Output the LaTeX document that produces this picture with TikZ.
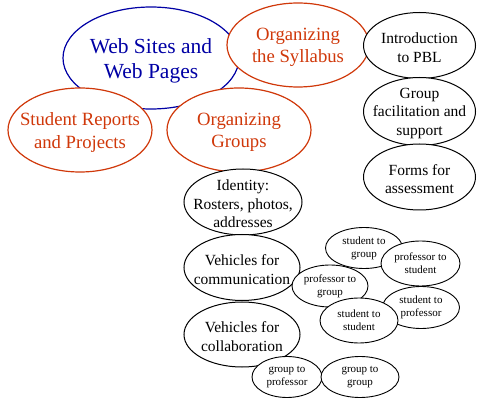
\documentclass[tikz,border=0pt]{standalone}
\usepackage{fontspec}
\setmainfont{Liberation Serif}
\definecolor{webblue}{RGB}{0,0,165}
\definecolor{topicred}{RGB}{208,56,10}
\newcommand{\bubble}[6]
{   \filldraw[fill=white,#5] (#2) ellipse (#3 and #4);
    \node[#5,bubbletext,#5 text] (#1) at (#2) {#6};
}
\begin{document}
\begin{tikzpicture}[x=1pt,y=-1pt,
  bubbletext/.style={align=center,inner sep=0pt,draw=none,fill=none},
  webtopic/.style={draw=webblue,text=webblue,line width=1.2pt,font={\fontsize{21.5}{25}\selectfont}},
  webtopic text/.style={yshift=-3pt},
  maintopic/.style={draw=topicred,text=topicred,line width=1.2pt,font={\fontsize{18.7}{22.5}\selectfont}},
  maintopic text/.style={yshift=-2.5pt},
  subtopic/.style={draw=black,text=black,line width=1pt,font={\fontsize{15.5}{18.5}\selectfont}},
  subtopic text/.style={yshift=-2pt},
  smalltopic/.style={draw=black,text=black,line width=0.9pt,font={\fontsize{11}{13}\selectfont}},
  smalltopic text/.style={}]
 \useasboundingbox (0,0) rectangle (477,398);

 % main topics
 \bubble{web}{151,58}{88}{51}{webtopic}{Web Sites and\\Web Pages}
 \bubble{syllabus}{298,45}{71}{42}{maintopic}{Organizing\\the Syllabus}
 \bubble{reports}{80,130}{72}{42}{maintopic}{Student Reports\\and Projects}
 \bubble{groups}{239,130}{72}{42}{maintopic}{Organizing\\Groups}

 % syllabus column
 \bubble{intro}{419.5,45.5}{56}{33}{subtopic}{Introduction\\to PBL}
 \bubble{facil}{419.5,111.5}{56}{34}{subtopic}{Group\\facilitation and\\support}
 \bubble{forms}{419.5,177}{56}{33}{subtopic}{Forms for\\assessment}

 % groups column
 \bubble{identity}{243,202}{59}{33}{subtopic}{Identity:\\Rosters, photos,\\addresses}
 \bubble{commun}{242,267.5}{58}{33}{subtopic}{Vehicles for\\communication}
 \bubble{collab}{242,334.5}{58}{32.5}{subtopic}{Vehicles for\\collaboration}

 % communication cluster
 \bubble{stgroup}{364,248}{38.5}{20.5}{smalltopic}{student to\\group}
 \bubble{profst}{420.5,263.5}{39.5}{22.5}{smalltopic}{professor to\\student}
 \bubble{stprof}{421,307.5}{38.5}{21}{smalltopic}{student to\\professor}
 \bubble{profgroup}{330,286}{38}{21}{smalltopic}{professor to\\group}
 \bubble{stst}{359,320.5}{39}{22.5}{smalltopic}{student to\\student}

 % collaboration pair
 \bubble{grprof}{287,377}{35}{20.5}{smalltopic}{group to\\professor}
 \bubble{grgr}{360,377}{39}{20.5}{smalltopic}{group to\\group}

\end{tikzpicture}
\end{document}
